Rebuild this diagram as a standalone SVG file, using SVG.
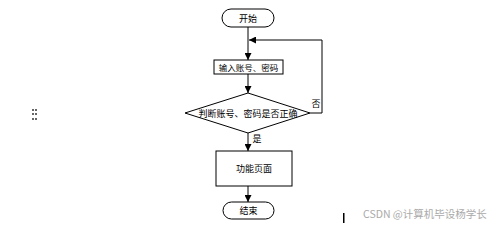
<svg xmlns="http://www.w3.org/2000/svg" width="498" height="225" viewBox="0 0 498 225">
<style>
.s{fill:#fff;stroke:#000;stroke-width:1}
.t{font-family:"Noto Sans CJK SC","Liberation Sans",sans-serif;font-size:9px;fill:#000;text-anchor:middle;dominant-baseline:central}
.c{fill:none;stroke:#000;stroke-width:1}
</style>
<defs>
<marker id="a" viewBox="0 0 10 10" refX="10" refY="5" markerWidth="7" markerHeight="7" orient="auto" markerUnits="userSpaceOnUse"><path d="M0,0L10,5L0,10z" fill="#000"/></marker>
</defs>
<rect width="498" height="225" fill="#fff"/>
<g id="connectors">
<line class="c" x1="248" y1="27" x2="248" y2="60" marker-end="url(#a)"/>
<line class="c" x1="248" y1="74" x2="248" y2="93" marker-end="url(#a)"/>
<line class="c" x1="248" y1="133" x2="248" y2="151" marker-end="url(#a)"/>
<line class="c" x1="248" y1="186" x2="248" y2="202" marker-end="url(#a)"/>
<polyline class="c" points="310,113 322,113 322,40 249,40" marker-end="url(#a)"/>
<text class="t" x="316" y="103">否</text>
<text class="t" x="257" y="138">是</text>
</g>
<g id="start">
<rect class="s" x="222" y="9" width="52" height="18" rx="9"/>
<text class="t" x="248" y="18">开始</text>
</g>
<g id="input">
<rect class="s" x="214" y="60" width="69" height="14"/>
<text class="t" x="248.5" y="67" style="font-size:8.5px">输入账号、密码</text>
</g>
<g id="check">
<polygon class="s" points="185,113 248,93 310,113 248,133"/>
<text class="t" x="248" y="113">判断账号、密码是否正确</text>
</g>
<g id="func">
<rect class="s" x="216" y="151" width="76" height="35"/>
<text class="t" x="254" y="168.5">功能页面</text>
</g>
<g id="end">
<rect class="s" x="223" y="202" width="51" height="17" rx="8.5"/>
<text class="t" x="248.5" y="210.5">结束</text>
</g>
<g fill="#666">
<rect x="32" y="109" width="2" height="2"/><rect x="35" y="109" width="2" height="2"/>
<rect x="32" y="113" width="2" height="2"/><rect x="35" y="113" width="2" height="2"/>
<rect x="32" y="118" width="2" height="2"/><rect x="35" y="118" width="2" height="2"/>
</g>
<rect x="343" y="213" width="1.5" height="10" fill="#000"/>
<text x="363" y="218" font-family="Noto Sans CJK SC,Liberation Sans,sans-serif" font-size="10.5" fill="#aaa">CSDN @计算机毕设杨学长</text>
</svg>
